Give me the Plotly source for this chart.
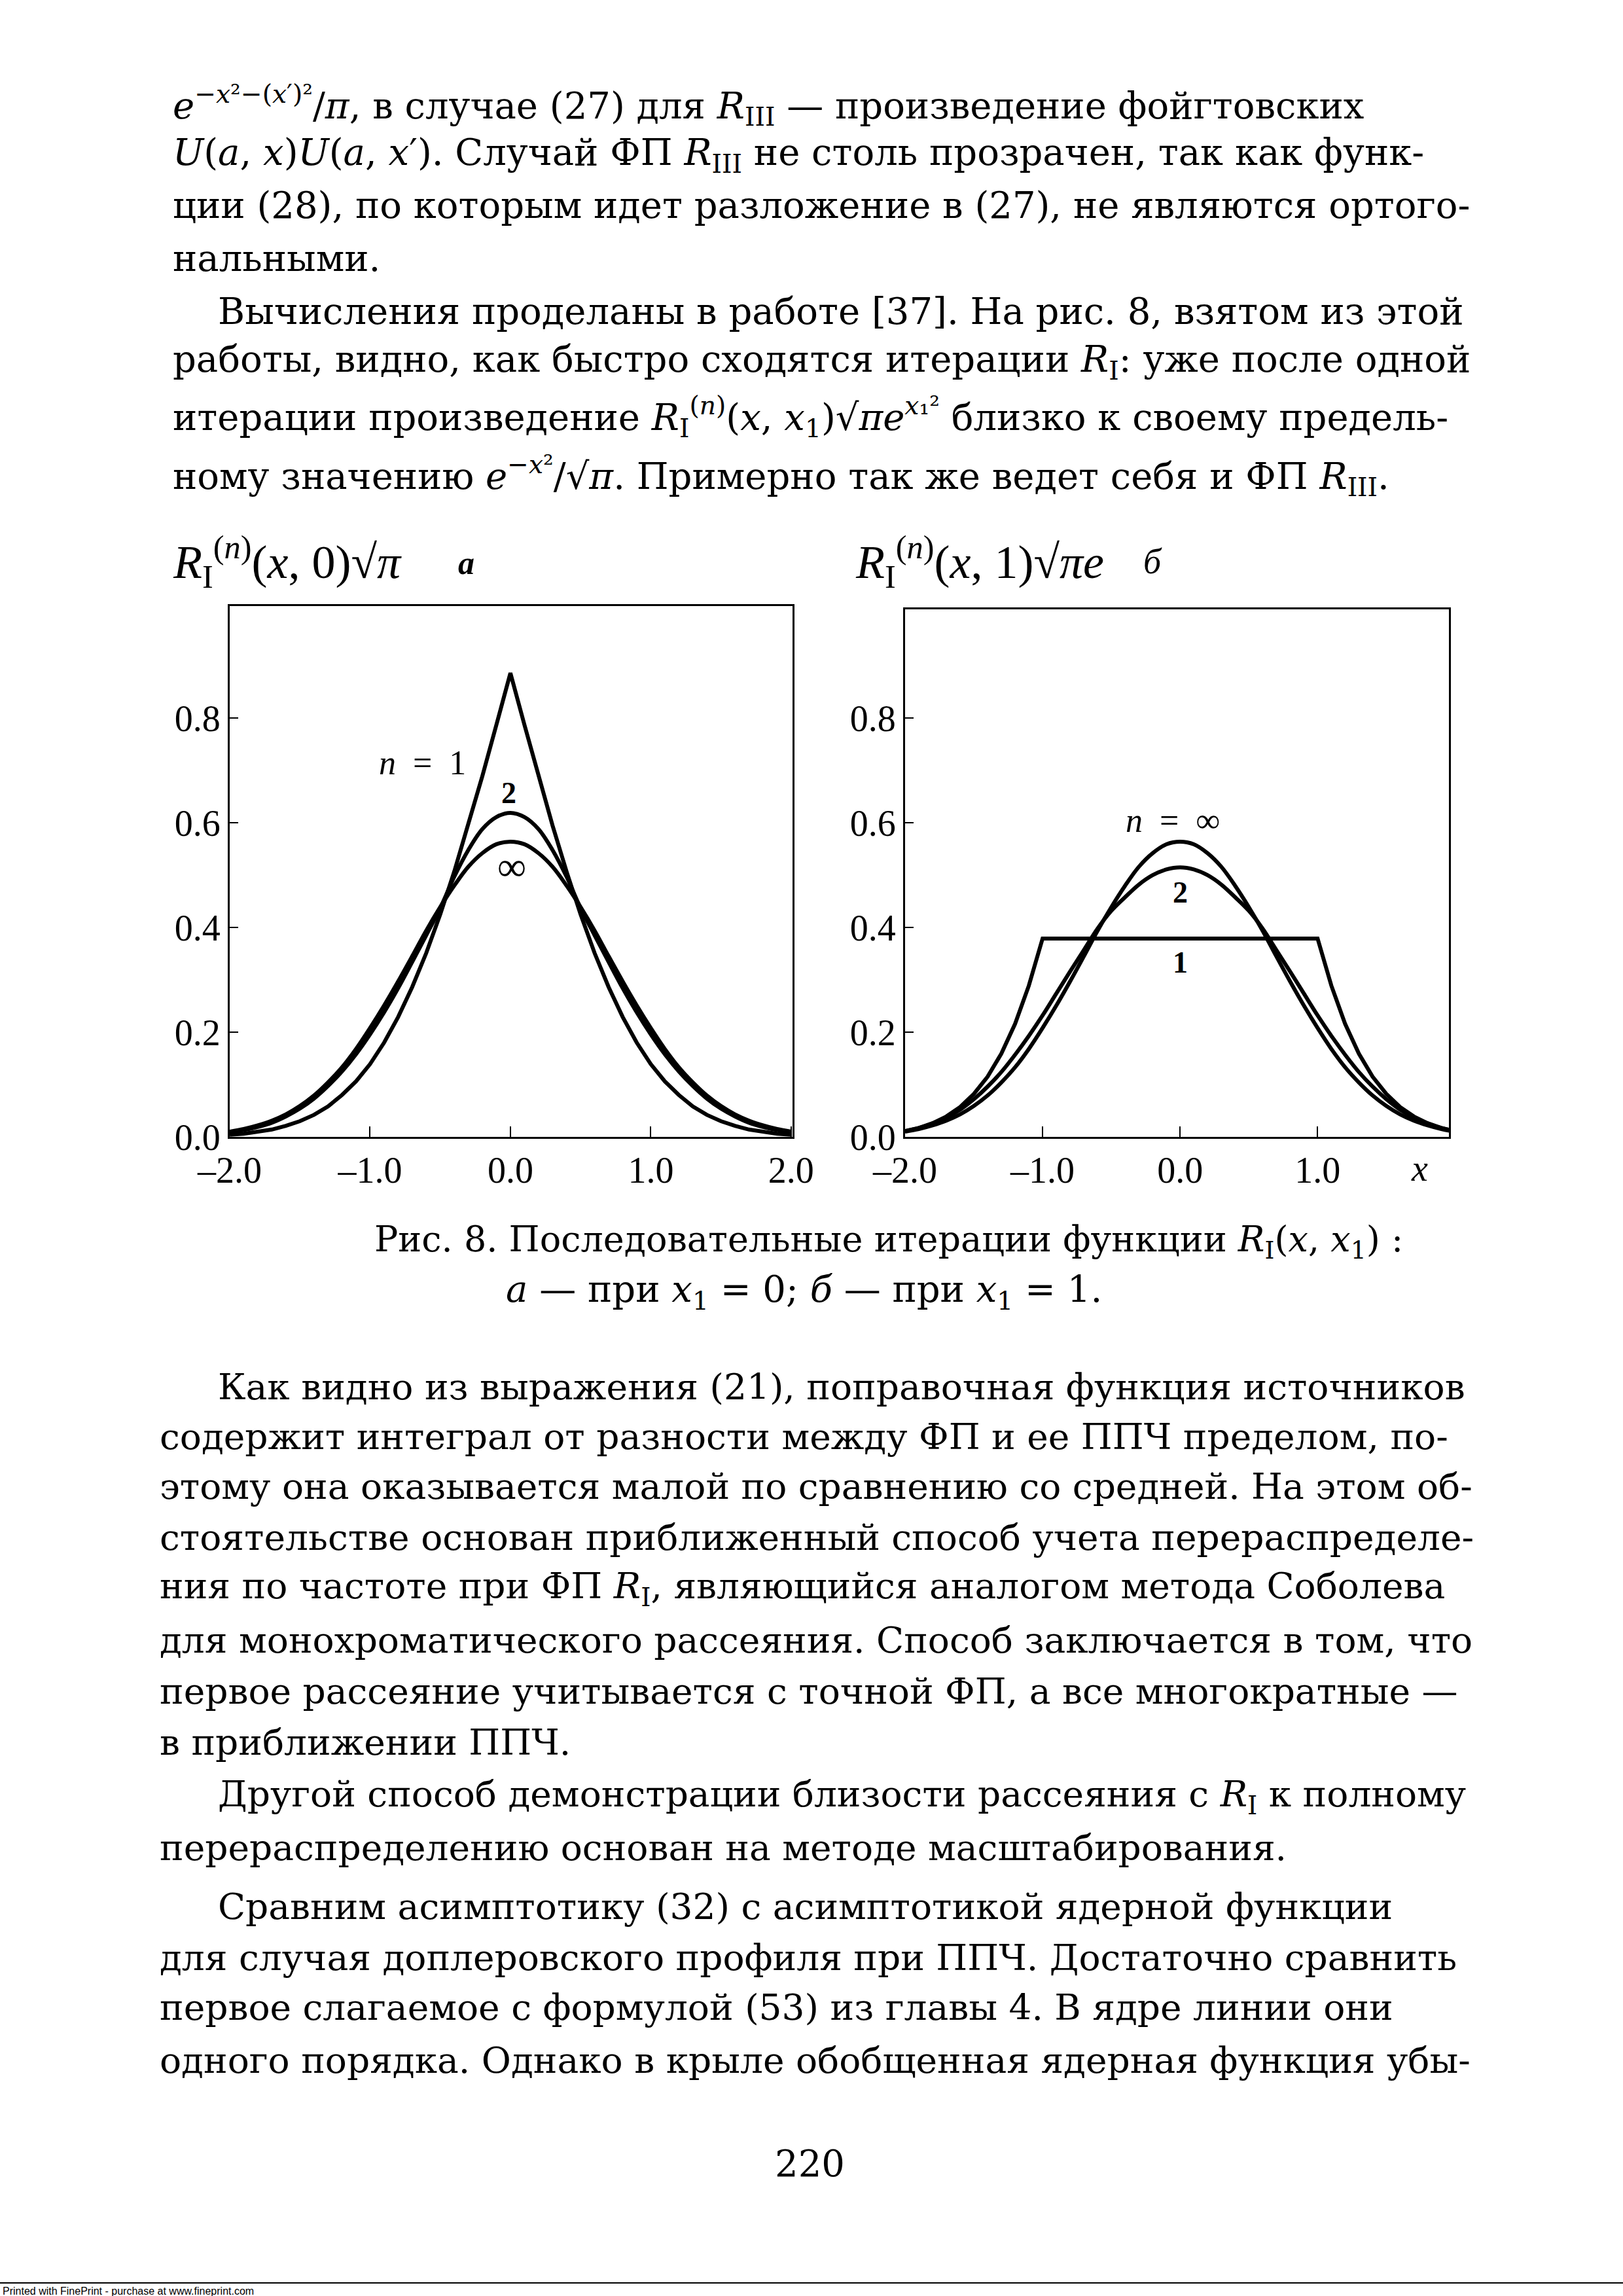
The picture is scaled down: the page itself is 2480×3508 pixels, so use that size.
import plotly.graph_objects as go
from plotly.subplots import make_subplots

W, H = 2480, 3508

# values (x step 0.1 from -2 to 2)
x_vals = [-2.0, -1.9, -1.8, -1.7, -1.6, -1.5, -1.4, -1.3, -1.2, -1.1, -1.0,
          -0.9, -0.8, -0.7, -0.6, -0.5, -0.4, -0.3, -0.2, -0.1, 0.0,
          0.1, 0.2, 0.3, 0.4, 0.5, 0.6, 0.7, 0.8, 0.9, 1.0,
          1.1, 1.2, 1.3, 1.4, 1.5, 1.6, 1.7, 1.8, 1.9, 2.0]

# panel a: x1 = 0
a_n1 = [0.004, 0.006, 0.010, 0.014, 0.021, 0.030, 0.042, 0.058, 0.080, 0.106, 0.139,
        0.180, 0.229, 0.286, 0.351, 0.425, 0.507, 0.595, 0.689, 0.787, 0.886,
        0.787, 0.689, 0.595, 0.507, 0.425, 0.351, 0.286, 0.229, 0.180, 0.139,
        0.106, 0.080, 0.058, 0.042, 0.030, 0.021, 0.014, 0.010, 0.006, 0.004]
a_n2 = [0.008, 0.013, 0.019, 0.027, 0.039, 0.054, 0.073, 0.097, 0.125, 0.158, 0.196,
        0.238, 0.284, 0.334, 0.385, 0.437, 0.497, 0.548, 0.588, 0.611, 0.619,
        0.611, 0.588, 0.548, 0.497, 0.437, 0.385, 0.334, 0.284, 0.238, 0.196,
        0.158, 0.125, 0.097, 0.073, 0.054, 0.039, 0.027, 0.019, 0.013, 0.008]
a_inf = [0.010, 0.015, 0.022, 0.031, 0.043, 0.059, 0.079, 0.104, 0.133, 0.168, 0.208,
         0.251, 0.297, 0.345, 0.394, 0.439, 0.480, 0.516, 0.542, 0.559, 0.564,
         0.559, 0.542, 0.516, 0.480, 0.439, 0.394, 0.345, 0.297, 0.251, 0.208,
         0.168, 0.133, 0.104, 0.079, 0.059, 0.043, 0.031, 0.022, 0.015, 0.010]

# panel b: x1 = 1
b_n1 = [0.011, 0.017, 0.026, 0.039, 0.057, 0.082, 0.115, 0.159, 0.216, 0.289,
        0.379, 0.379, 0.379, 0.379, 0.379, 0.379, 0.379, 0.379, 0.379, 0.379, 0.379,
        0.379, 0.379, 0.379, 0.379, 0.379, 0.379, 0.379, 0.379, 0.379, 0.379,
        0.289, 0.216, 0.159, 0.115, 0.082, 0.057, 0.039, 0.026, 0.017, 0.011]
b_n2 = [0.011, 0.017, 0.026, 0.037, 0.052, 0.072, 0.096, 0.124, 0.157, 0.193, 0.232,
        0.274, 0.316, 0.357, 0.398, 0.432, 0.458, 0.482, 0.500, 0.511, 0.515,
        0.511, 0.500, 0.482, 0.458, 0.432, 0.398, 0.357, 0.316, 0.274, 0.232,
        0.193, 0.157, 0.124, 0.096, 0.072, 0.052, 0.037, 0.026, 0.017, 0.011]
b_inf = [0.010, 0.015, 0.022, 0.031, 0.043, 0.059, 0.079, 0.104, 0.133, 0.168, 0.208,
         0.251, 0.297, 0.345, 0.394, 0.439, 0.480, 0.516, 0.542, 0.559, 0.564,
         0.559, 0.542, 0.516, 0.480, 0.439, 0.394, 0.345, 0.297, 0.251, 0.208,
         0.168, 0.133, 0.104, 0.079, 0.059, 0.043, 0.031, 0.022, 0.015, 0.010]

y_ticks = [0.0, 0.2, 0.4, 0.6, 0.8]
y_ticktext = ["0.0", "0.2", "0.4", "0.6", "0.8"]
a_xticks = [-2, -1, 0, 1, 2]
a_xticktext = ["\u20132.0", "\u20131.0", "0.0", "1.0", "2.0"]
b_xticks = [-2, -1, 0, 1]
b_xticktext = ["\u20132.0", "\u20131.0", "0.0", "1.0"]

top_lines = [
    "<i>e</i><sup>\u2212<i>x</i>\u00b2\u2212(<i>x</i>\u2032)\u00b2</sup>/<i>\u03c0</i>, в случае (27) для <i>R</i><sub>III</sub> \u2014 произведение фойгтовских",
    "<i>U</i>(<i>a</i>, <i>x</i>)<i>U</i>(<i>a</i>, <i>x</i>\u2032). Случай ФП <i>R</i><sub>III</sub> не столь прозрачен, так как функ-",
    "ции (28), по которым идет разложение в (27), не являются ортого-",
    "нальными.",
    "Вычисления проделаны в работе [37]. На рис. 8, взятом из этой",
    "работы, видно, как быстро сходятся итерации <i>R</i><sub>I</sub>: уже после одной",
    "итерации произведение <i>R</i><sub>I</sub><sup>(<i>n</i>)</sup>(<i>x</i>, <i>x</i><sub>1</sub>)\u221a<i>\u03c0</i><i>e</i><sup><i>x</i>\u2081\u00b2</sup> близко к своему предель-",
    "ному значению <i>e</i><sup>\u2212<i>x</i>\u00b2</sup>/\u221a<i>\u03c0</i>. Примерно так же ведет себя и ФП <i>R</i><sub>III</sub>.",
]
top_y = [161, 237, 313, 394, 476, 552, 637, 727]
top_x = [262, 262, 262, 262, 331, 262, 262, 262]

bottom_lines = [
    "Как видно из выражения (21), поправочная функция источников",
    "содержит интеграл от разности между ФП и ее ППЧ пределом, по-",
    "этому она оказывается малой по сравнению со средней. На этом об-",
    "стоятельстве основан приближенный способ учета перераспределе-",
    "ния по частоте при ФП <i>R</i><sub>I</sub>, являющийся аналогом метода Соболева",
    "для монохроматического рассеяния. Способ заключается в том, что",
    "первое рассеяние учитывается с точной ФП, а все многократные \u2014",
    "в приближении ППЧ.",
    "Другой способ демонстрации близости рассеяния с <i>R</i><sub>I</sub> к полному",
    "перераспределению основан на методе масштабирования.",
    "Сравним асимптотику (32) с асимптотикой ядерной функции",
    "для случая доплеровского профиля при ППЧ. Достаточно сравнить",
    "первое слагаемое с формулой (53) из главы 4. В ядре линии они",
    "одного порядка. Однако в крыле обобщенная ядерная функция убы-",
]
bottom_y = [2119, 2195, 2271, 2349, 2427, 2506, 2584, 2662, 2745, 2823, 2913, 2991, 3067, 3148]
bottom_x = [331, 242, 242, 242, 242, 242, 242, 242, 331, 242, 331, 242, 242, 242]


def px(v):
    return v / W


def py(v):
    return 1 - v / H


fig = make_subplots(rows=1, cols=2)

fig.add_trace(go.Scatter(x=x_vals, y=a_n1, mode="lines", line=dict(color="black", width=6)), row=1, col=1)
fig.add_trace(go.Scatter(x=x_vals, y=a_n2, mode="lines", line=dict(color="black", width=6, shape="spline")), row=1, col=1)
fig.add_trace(go.Scatter(x=x_vals, y=a_inf, mode="lines", line=dict(color="black", width=6, shape="spline")), row=1, col=1)
fig.add_trace(go.Scatter(x=x_vals, y=b_n1, mode="lines", line=dict(color="black", width=6)), row=1, col=2)
fig.add_trace(go.Scatter(x=x_vals, y=b_n2, mode="lines", line=dict(color="black", width=6, shape="spline")), row=1, col=2)
fig.add_trace(go.Scatter(x=x_vals, y=b_inf, mode="lines", line=dict(color="black", width=6, shape="spline")), row=1, col=2)

tick_font = dict(family="Liberation Serif", size=56, color="black")
axis_common = dict(showline=True, linewidth=3, linecolor="black", mirror=True,
                   showgrid=False, zeroline=False, ticks="inside", tickwidth=2,
                   tickcolor="black", tickfont=tick_font, automargin=False)

fig.update_xaxes(axis_common, ticklen=16)
fig.update_yaxes(axis_common, ticklen=13)
fig.update_layout(
    xaxis=dict(domain=[px(351), px(1211)], range=[-2, 2.01], tickvals=a_xticks, ticktext=a_xticktext),
    yaxis=dict(domain=[py(1737), py(926)], range=[0, 1.014], tickvals=y_ticks, ticktext=y_ticktext),
    xaxis2=dict(domain=[px(1383), px(2214)], range=[-2, 1.955], tickvals=b_xticks, ticktext=b_xticktext),
    yaxis2=dict(domain=[py(1737), py(931)], range=[0, 1.008], tickvals=y_ticks, ticktext=y_ticktext),
)

serif = "Liberation Serif"


def note(x, y, text, size=50, family=serif, anchor="left"):
    fig.add_annotation(x=px(x), y=py(y), xref="paper", yref="paper", text=text,
                       showarrow=False, xanchor=anchor, yanchor="middle",
                       font=dict(family=family, size=size, color="black"))


# axis titles and panel letters
note(262, 858, "<i>R</i><sub>I</sub><sup>(<i>n</i>)</sup>(<i>x</i>, 0)\u221a<i>\u03c0</i>", 72)
note(712, 860, "<b><i>a</i></b>", 50, anchor="center")
note(1305, 858, "<i>R</i><sub>I</sub><sup>(<i>n</i>)</sup>(<i>x</i>, 1)\u221a<i>\u03c0e</i>", 72)
note(1761, 858, "<i>б</i>", 54, anchor="center")

# curve labels
note(645, 1166, "<i>n</i>\u2002=\u20021", 52, anchor="center")
note(777, 1211, "<b>2</b>", 46, anchor="center")
note(782, 1324, "\u221e", 62, anchor="center")
note(1792, 1253, "<i>n</i>\u2002=\u2002\u221e", 52, anchor="center")
note(1803, 1364, "<b>2</b>", 46, anchor="center")
note(1803, 1470, "<b>1</b>", 46, anchor="center")
note(2169, 1785, "<i>x</i>", 56, anchor="center")

# caption
note(570, 1897, "Рис. 8. Последовательные итерации функции <i>R</i><sub>I</sub>(<i>x</i>, <i>x</i><sub>1</sub>) :", 54, "DejaVu Serif")
note(771, 1973, "<i>a</i> \u2014 при <i>x</i><sub>1</sub> = 0; <i>б</i> \u2014 при <i>x</i><sub>1</sub> = 1.", 56, "DejaVu Serif")

for t, xx, yy in zip(top_lines, top_x, top_y):
    note(xx, yy, t, 56, "DejaVu Serif")
for t, xx, yy in zip(bottom_lines, bottom_x, bottom_y):
    note(xx, yy, t, 55, "DejaVu Serif")

note(1237, 3305, "220", 56, "DejaVu Serif", anchor="center")
note(2, 3500, "Printed with FinePrint - purchase at www.fineprint.com", 16, "Liberation Sans")

fig.add_shape(type="line", xref="paper", yref="paper", x0=0, x1=1, y0=py(3488), y1=py(3488),
              line=dict(color="black", width=2))

fig.update_layout(width=W, height=H, margin=dict(l=0, r=0, t=0, b=0, pad=0, autoexpand=False),
                  paper_bgcolor="white", plot_bgcolor="white", showlegend=False)

fig.write_html("out.html", config={"displayModeBar": False, "responsive": False},
               post_script="document.body.style.margin='0';")
